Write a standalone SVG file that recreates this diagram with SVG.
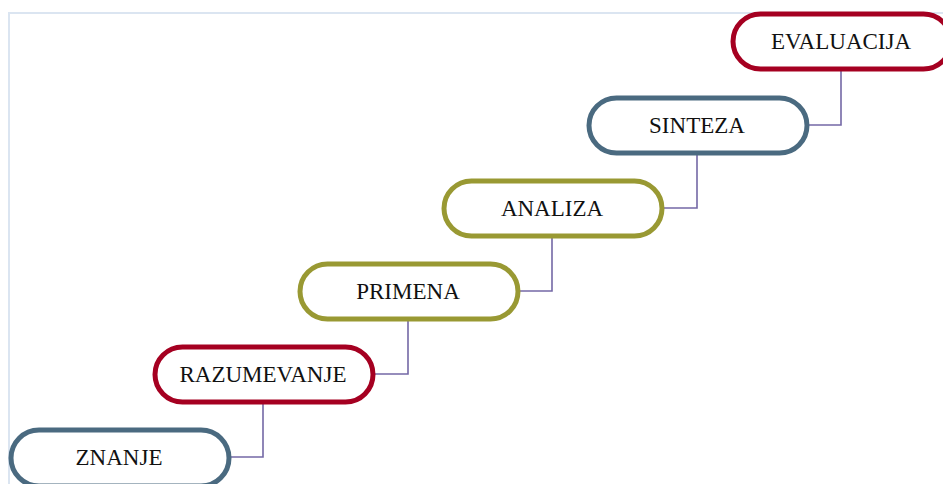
<svg xmlns="http://www.w3.org/2000/svg" width="943" height="484" viewBox="0 0 943 484">
<style>
.frame{fill:none;stroke:#dbe5f1;stroke-width:2}
.n rect{fill:#fff;stroke-width:5}
.blue rect{stroke:#4a6a80}
.red rect{stroke:#a50021}
.olive rect{stroke:#999933}
.n text{font-family:"Liberation Serif","DejaVu Serif",serif;font-size:23px;fill:#111;text-anchor:middle;dominant-baseline:central}
.c path{fill:none;stroke:#7468a6;stroke-width:1.6}
</style>
<rect width="943" height="484" fill="#fff"/>
<path class="frame" d="M9,484 V13 H943"/>
<g class="c" id="connectors">
<path d="M263,402 V457 H229"/>
<path d="M408,319 V374 H373"/>
<path d="M552,236 V291 H518"/>
<path d="M697,153 V208 H662"/>
<path d="M841,69 V125 H807"/>
</g>
<g id="znanje" class="n blue"><rect x="11" y="430" width="218" height="56" rx="28"/><text x="119" y="457">ZNANJE</text></g>
<g id="razumevanje" class="n red"><rect x="155" y="347" width="218" height="55" rx="27.5"/><text x="263" y="374">RAZUMEVANJE</text></g>
<g id="primena" class="n olive"><rect x="300" y="264" width="218" height="55" rx="27.5"/><text x="408" y="291">PRIMENA</text></g>
<g id="analiza" class="n olive"><rect x="444" y="181" width="218" height="55" rx="27.5"/><text x="552" y="208">ANALIZA</text></g>
<g id="sinteza" class="n blue"><rect x="589" y="98" width="218" height="55" rx="27.5"/><text x="697" y="125">SINTEZA</text></g>
<g id="evaluacija" class="n red"><rect x="733" y="14" width="218" height="55" rx="27.5"/><text x="841" y="41">EVALUACIJA</text></g>
</svg>
